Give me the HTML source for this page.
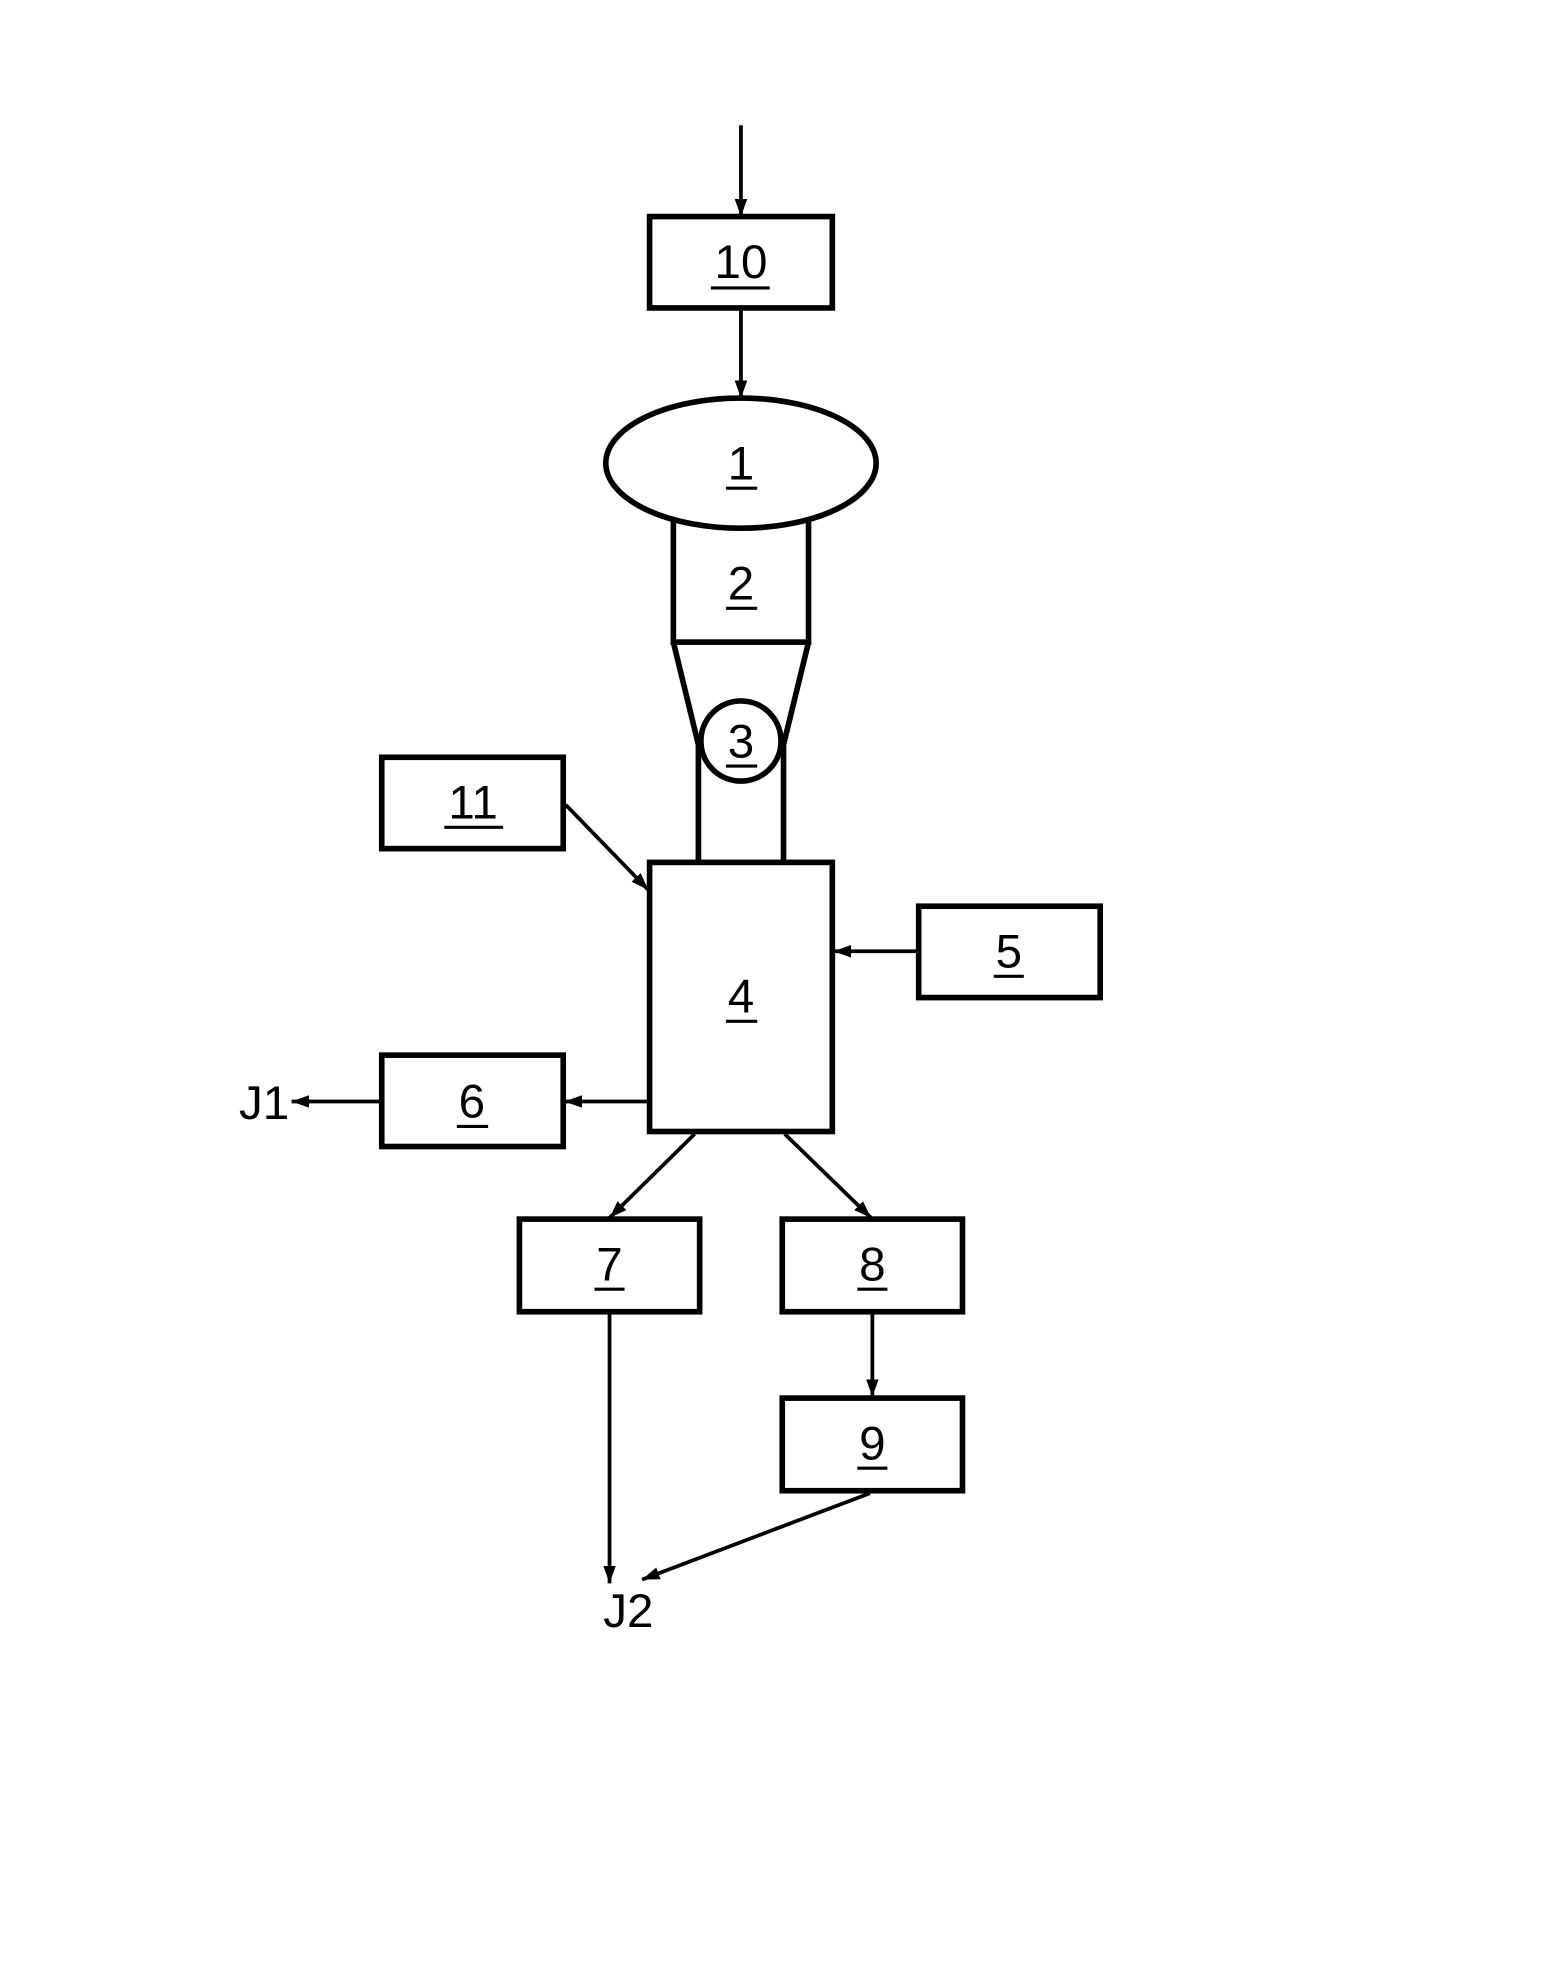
<!DOCTYPE html>
<html><head><meta charset="utf-8"><style>
html,body{margin:0;padding:0;background:#fff;}
svg{display:block;}
text{font-family:"Liberation Sans",sans-serif;font-size:38px;fill:#000;text-anchor:middle;}
</style></head><body>
<svg width="1552" height="1966" viewBox="0 0 1240 1570.7" xmlns="http://www.w3.org/2000/svg">
<defs>
<marker id="a" viewBox="0 0 14 10" refX="14" refY="5" markerWidth="14" markerHeight="10" markerUnits="userSpaceOnUse" orient="auto">
<path d="M0,0 L14,5 L0,10 Z" fill="#000"/></marker>
</defs>
<g stroke="#000" stroke-width="4.5" fill="none">
<rect x="538" y="405" width="108" height="108" fill="#fff"/>
<path d="M538,513 L558,595 L558,689 M646,513 L626,595 L626,689"/>
<ellipse cx="592" cy="370" rx="108" ry="52" fill="#fff"/>
<circle cx="592" cy="592" r="32" fill="#fff"/>
<rect x="519" y="173" width="146" height="73"/>
<rect x="519" y="689" width="146" height="215" fill="#fff"/>
<rect x="305" y="605" width="145" height="73"/>
<rect x="734" y="724" width="145" height="73"/>
<rect x="305" y="843" width="145" height="73"/>
<rect x="415" y="974" width="144" height="74"/>
<rect x="625" y="974" width="144" height="74"/>
<rect x="625" y="1117" width="144" height="74"/>
</g>
<g stroke="#000" stroke-width="3" fill="none" marker-end="url(#a)">
<line x1="592" y1="100" x2="592" y2="173"/>
<line x1="592" y1="248" x2="592" y2="318"/>
<line x1="452" y1="643" x2="518" y2="711"/>
<line x1="734" y1="760" x2="666" y2="760"/>
<line x1="519" y1="880" x2="451" y2="880"/>
<line x1="305" y1="880" x2="233" y2="880"/>
<line x1="555" y1="906" x2="487" y2="973"/>
<line x1="627" y1="906" x2="696" y2="973"/>
<line x1="697" y1="1050" x2="697" y2="1116"/>
<line x1="487" y1="1050" x2="487" y2="1265"/>
<line x1="695" y1="1193" x2="513" y2="1262"/>
</g>
<g>
<text x="592" y="222">10</text>
<text x="592" y="383">1</text>
<text x="592" y="479">2</text>
<text x="592" y="605">3</text>
<text x="378" y="654">11</text>
<text x="806" y="773">5</text>
<text x="592" y="809">4</text>
<text x="377" y="893">6</text>
<text x="487" y="1023">7</text>
<text x="697" y="1023">8</text>
<text x="697" y="1166">9</text>
<text x="211" y="894">J1</text>
<text x="502" y="1300">J2</text>
</g>
<g stroke="#000" stroke-width="2.5">
<line x1="568" y1="230" x2="615" y2="230"/>
<line x1="580" y1="390" x2="605" y2="390"/>
<line x1="580" y1="486" x2="605" y2="486"/>
<line x1="580" y1="612" x2="605" y2="612"/>
<line x1="355" y1="661" x2="402" y2="661"/>
<line x1="794" y1="780" x2="818" y2="780"/>
<line x1="580" y1="816" x2="605" y2="816"/>
<line x1="365" y1="900" x2="390" y2="900"/>
<line x1="475" y1="1030" x2="499" y2="1030"/>
<line x1="685" y1="1030" x2="709" y2="1030"/>
<line x1="685" y1="1173" x2="709" y2="1173"/>
</g>
</svg>
</body></html>
